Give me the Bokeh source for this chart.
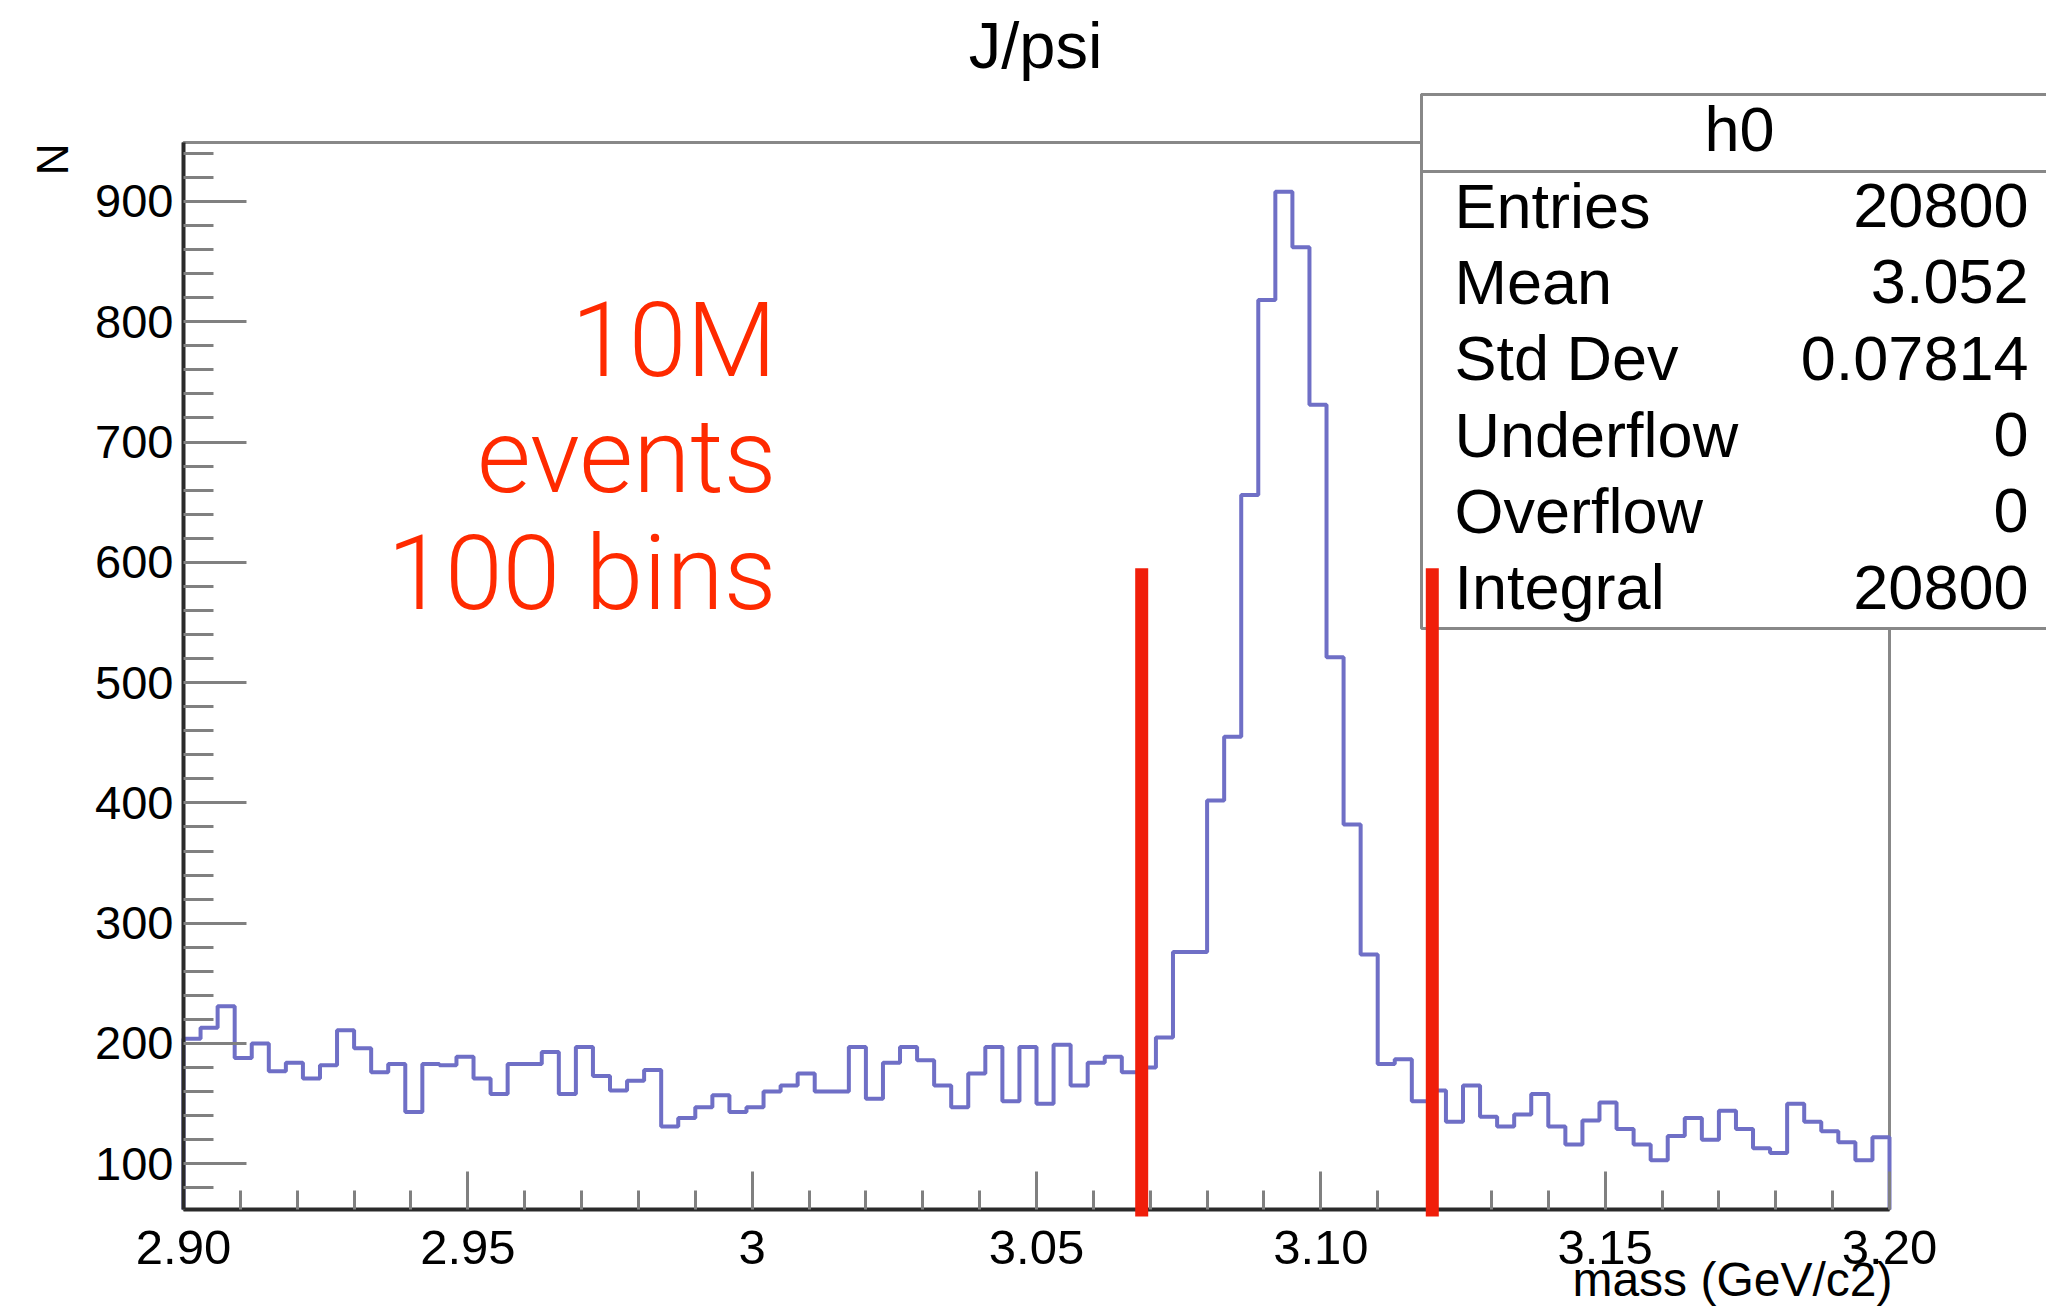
import numpy as np
from bokeh.plotting import figure
from bokeh.models import Range1d, FixedTicker, Label, BoxAnnotation
from bokeh.embed import file_html
from bokeh.resources import INLINE

# ---------------- data ----------------
bin_low = 2.90
bin_high = 3.20
counts = [204, 213, 231, 188, 200, 177, 184, 171, 182, 211,
          196, 176, 183, 143, 183, 182, 189, 171, 158, 183,
          183, 193, 158, 197, 173, 161, 169, 178, 131, 138,
          147, 157, 143, 147, 160, 165, 175, 160, 160, 197,
          154, 184, 197, 186, 165, 147, 175, 197, 152, 197,
          150, 199, 165, 184, 189, 176, 180, 205, 276, 276,
          402, 455, 656, 818, 908, 862, 731, 521, 382, 274,
          183, 187, 152, 161, 135, 165, 139, 131, 141, 158,
          131, 116, 136, 151, 129, 116, 103, 123, 138, 120,
          144, 129, 113, 109, 150, 135, 127, 118, 103, 122]

x_ticks = [2.90, 2.95, 3.00, 3.05, 3.10, 3.15, 3.20]
x_tick_labels = ["2.90", "2.95", "3", "3.05", "3.10", "3.15", "3.20"]
x_minor_ticks = [2.91, 2.92, 2.93, 2.94, 2.96, 2.97, 2.98, 2.99,
                 3.01, 3.02, 3.03, 3.04, 3.06, 3.07, 3.08, 3.09,
                 3.11, 3.12, 3.13, 3.14, 3.16, 3.17, 3.18, 3.19]
y_ticks = [100, 200, 300, 400, 500, 600, 700, 800, 900]
y_minor_ticks = [80, 120, 140, 160, 180, 220, 240, 260, 280, 320, 340, 360, 380,
                 420, 440, 460, 480, 520, 540, 560, 580, 620, 640, 660, 680,
                 720, 740, 760, 780, 820, 840, 860, 880, 920, 940]
y_low, y_high = 62, 949

cuts = [3.0685, 3.1196]
cut_top = 595

title_text = "J/psi"
x_title = "mass (GeV/c2)"
y_title = "N"
stats_title = "h0"
stats_names = ["Entries", "Mean", "Std Dev", "Underflow", "Overflow", "Integral"]
stats_values = ["20800", "3.052", "0.07814", "0", "0", "20800"]
note_lines = ["10M", "events", "100 bins"]

# ---------------- layout (page pixels) ----------------
W, H = 2046, 1306
PL, PR, PT, PB = 183, 1889, 142, 1209      # visible plot rectangle
FONT = "Liberation Sans"
XPP = (bin_high - bin_low) / (PR - PL)     # data per pixel
YPP = (y_high - y_low) / (PB - PT)


def dx(px):
    return bin_low + (px - PL) * XPP


def dy(py):
    return y_low + (PB - py) * YPP


def base(py, size):
    # empirical baseline correction for Label placement
    return dy(py - 0.395 * size)


# The frame covers the whole canvas; the axes are drawn at fixed locations
# (the edges of the histogram area) and limited with bounds, so that all
# annotations around the plot stay visible.
p = figure(width=W, height=H,
           x_range=Range1d(dx(0), dx(W)), y_range=Range1d(dy(H), dy(0)),
           output_backend="svg", toolbar_location=None,
           min_border_left=0, min_border_right=0,
           min_border_top=0, min_border_bottom=0)
p.background_fill_color = "white"
p.border_fill_color = "white"
p.outline_line_color = None
p.xgrid.visible = False
p.ygrid.visible = False

# plot rectangle outline (top / right edges)
p.add_layout(BoxAnnotation(left=bin_low, right=bin_high, bottom=y_low, top=y_high,
                           fill_alpha=0.0, line_color="#888888", line_alpha=1.0,
                           line_width=3, level="underlay"))

# axes
p.xaxis.fixed_location = y_low
p.yaxis.fixed_location = bin_low
p.xaxis.ticker = FixedTicker(ticks=x_ticks, minor_ticks=x_minor_ticks)
p.xaxis.major_label_overrides = {t: l for t, l in zip(x_ticks, x_tick_labels)}
p.yaxis.ticker = FixedTicker(ticks=y_ticks, minor_ticks=y_minor_ticks)
p.xaxis.bounds = (bin_low, bin_high)
p.yaxis.bounds = (y_low, y_high)
for ax in (p.xaxis[0], p.yaxis[0]):
    ax.axis_line_color = "#2a2a2a"
    ax.axis_line_width = 4
    ax.major_tick_line_color = "#808080"
    ax.minor_tick_line_color = "#808080"
    ax.major_tick_line_width = 3
    ax.minor_tick_line_width = 3
    ax.major_tick_out = 0
    ax.minor_tick_out = 0
    ax.major_label_text_font = FONT
    ax.major_label_text_color = "black"
p.xaxis.major_label_text_font_size = "49px"
p.yaxis.major_label_text_font_size = "47px"
p.xaxis.major_tick_in = 38
p.xaxis.minor_tick_in = 19
p.yaxis.major_tick_in = 63
p.yaxis.minor_tick_in = 30
p.xaxis.major_label_standoff = 21
p.yaxis.major_label_standoff = 10

# histogram outline
edges = np.linspace(bin_low, bin_high, len(counts) + 1)
xs = np.repeat(edges, 2)
ys = np.concatenate([[y_low], np.repeat(np.array(counts, dtype=float), 2), [y_low]])
p.line(xs, ys, line_color="#6f6fc6", line_width=4)

# stats box
p.add_layout(BoxAnnotation(left=dx(1421), right=dx(W + 30), top=dy(94), bottom=dy(628),
                           fill_color="white", fill_alpha=1.0, line_alpha=1.0,
                           line_color="#888888", line_width=3))
p.add_layout(BoxAnnotation(left=dx(1421), right=dx(W + 30), top=dy(94), bottom=dy(171),
                           fill_alpha=0.0, line_alpha=1.0,
                           line_color="#888888", line_width=3))
p.add_layout(Label(x=dx(1739), y=base(153, 63), text=stats_title, text_align="center",
                   text_baseline="alphabetic", text_font=FONT, text_font_size="63px",
                   text_color="black"))
for i, (n, v) in enumerate(zip(stats_names, stats_values)):
    b = 230 + i * 76.3
    p.add_layout(Label(x=dx(1454), y=base(b, 63), text=n, text_align="left",
                       text_baseline="alphabetic", text_font=FONT,
                       text_font_size="63px", text_color="black"))
    p.add_layout(Label(x=dx(2028), y=base(b, 63), text=v, text_align="right",
                       text_baseline="alphabetic", text_font=FONT,
                       text_font_size="63px", text_color="black"))

# red cut markers
half = 6.5 * XPP
for c in cuts:
    p.add_layout(BoxAnnotation(left=c - half, right=c + half, top=cut_top, bottom=dy(1216),
                               fill_color="#f01e0a", fill_alpha=1.0, line_alpha=0))

# red note
for i, t in enumerate(note_lines):
    p.add_layout(Label(x=dx(776), y=base(381 + i * 116.5, 104), text=t, text_align="right",
                       text_baseline="alphabetic", text_font="Roboto Light",
                       text_font_size="104px", text_color="#ff2a00"))

# title
p.add_layout(Label(x=dx(1035), y=base(71, 65), text=title_text, text_align="center",
                   text_baseline="alphabetic", text_font=FONT, text_font_size="65px",
                   text_color="black"))

# axis titles
p.add_layout(Label(x=dx(1892), y=base(1298, 48), text=x_title, text_align="right",
                   text_baseline="alphabetic", text_font=FONT, text_font_size="48px",
                   text_color="black"))
p.add_layout(Label(x=dx(52), y=dy(143), text=y_title, angle=np.pi / 2,
                   text_align="right", text_baseline="middle", text_font=FONT,
                   text_font_size="44px", text_color="black"))

open("out.html", "w").write(file_html(p, INLINE))
